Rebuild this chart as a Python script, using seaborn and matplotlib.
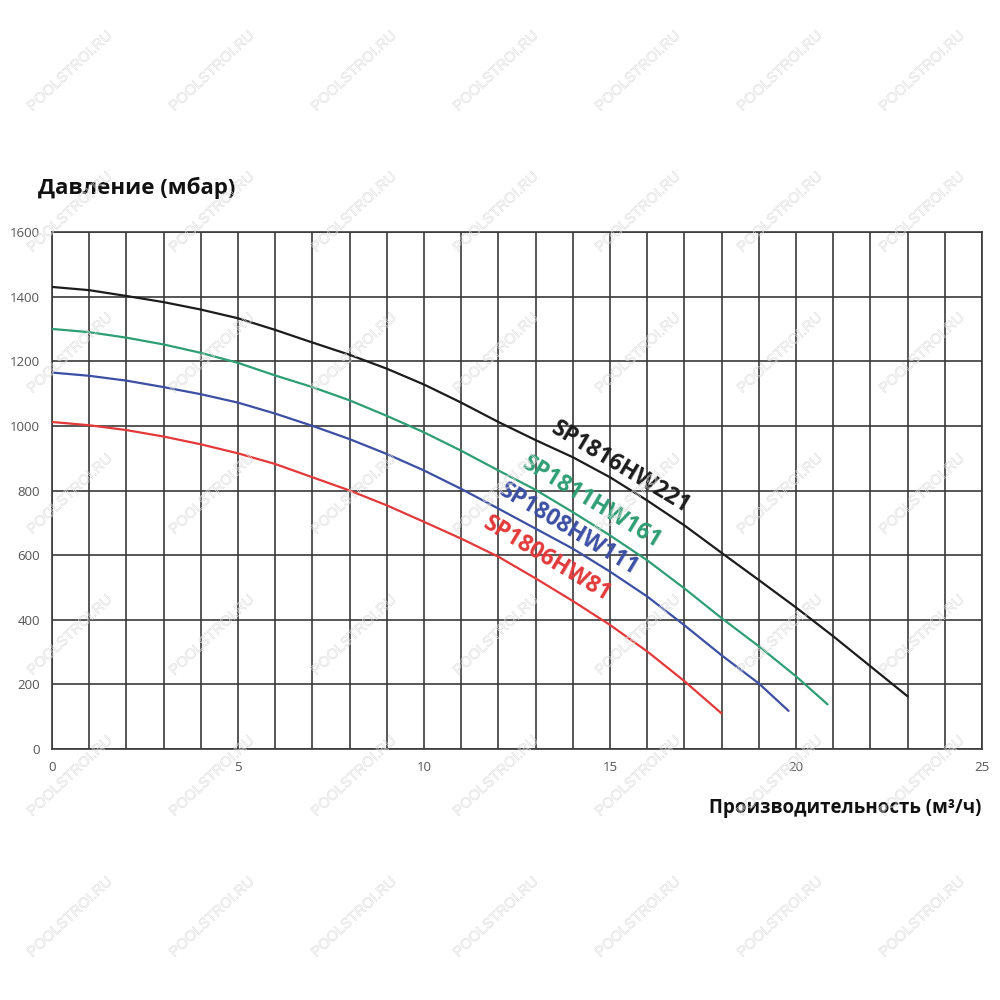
import numpy as np
import pandas as pd
import matplotlib
matplotlib.use('Agg')
import matplotlib.pyplot as plt
import matplotlib.patheffects as pe
import seaborn as sns

# flow, m3/h
flow_221 = [0, 1, 2, 3, 4, 5, 6, 7, 8, 9, 10, 11, 12, 13, 14, 15, 16, 17, 18, 19, 20, 21, 22, 23]
head_221 = [1430, 1420, 1402, 1383, 1360, 1333, 1297, 1258, 1220, 1177, 1128, 1072, 1012, 956,
            903, 841, 769, 692, 607, 523, 438, 349, 256, 163]

flow_161 = [0, 1, 2, 3, 4, 5, 6, 7, 8, 9, 10, 11, 12, 13, 14, 15, 16, 17, 18, 19, 20, 20.85]
head_161 = [1300, 1290, 1273, 1252, 1226, 1195, 1156, 1120, 1079, 1031, 980, 923, 862, 802,
            733, 661, 584, 497, 405, 318, 225, 138]

flow_111 = [0, 1, 2, 3, 4, 5, 6, 7, 8, 9, 10, 11, 12, 13, 14, 15, 16, 17, 18, 19, 19.8]
head_111 = [1165, 1155, 1140, 1120, 1098, 1072, 1038, 1000, 959, 913, 862, 805, 744, 682,
            620, 549, 472, 383, 290, 203, 118]

flow_81 = [0, 1, 2, 3, 4, 5, 6, 7, 8, 9, 10, 11, 12, 13, 14, 15, 16, 17, 18]
head_81 = [1012, 1002, 987, 967, 943, 915, 882, 841, 800, 754, 703, 651, 595, 528,
           458, 384, 302, 210, 110]

models = ['SP1816HW221', 'SP1811HW161', 'SP1808HW111', 'SP1806HW81']
colors = ['#1c1c1c', '#2e9e74', '#3c4fa3', '#e3393a']
label_x = [15.3, 14.5, 13.9, 13.3]
label_y = [870, 762, 680, 588]

flows = [flow_221, flow_161, flow_111, flow_81]
heads = [head_221, head_161, head_111, head_81]

rows = []
for m, fl, hd in zip(models, flows, heads):
    for f, h in zip(fl, hd):
        rows.append({'model': m, 'flow': f, 'head': h})
df = pd.DataFrame(rows)

sns.set_style('white')
plt.rcParams['font.family'] = ['Open Sans', 'DejaVu Sans']

fig = plt.figure(figsize=(10, 10), dpi=100)
ax = fig.add_axes([0.052, 0.251, 0.930, 0.517])

sns.lineplot(data=df, x='flow', y='head', hue='model', hue_order=models,
             palette=colors, linewidth=1.6, legend=False, sort=False, ax=ax, zorder=3)

ax.set_xlim(0, 25)
ax.set_ylim(0, 1600)
ax.set_xticks(np.arange(0, 26, 1), minor=True)
ax.set_xticks(np.arange(0, 26, 5))
ax.set_yticks(np.arange(0, 1601, 200))
ax.grid(True, which='both', color='#3a3a3a', linewidth=1.2)
for s in ax.spines.values():
    s.set_color('#3a3a3a')
    s.set_linewidth(1.2)
ax.tick_params(axis='both', which='major', direction='out', length=5, width=1.2,
               color='#3a3a3a', labelsize=9.5, labelcolor='#555555')
ax.tick_params(axis='x', which='minor', length=0)
ax.set_xlabel('')
ax.set_ylabel('')

for m, c, lx, ly in zip(models, colors, label_x, label_y):
    ax.text(lx, ly, m, color=c, fontsize=16.5, fontweight='bold', rotation=-31,
            rotation_mode='anchor', ha='center', va='center', zorder=4)

fig.text(0.038, 0.812, 'Давление (мбар)', fontsize=16, fontweight='bold',
         ha='left', va='center', color='#111111')
fig.text(0.981, 0.192, 'Производительность (м³/ч)', fontsize=13.5, fontweight='bold',
         ha='right', va='center', color='#111111')

# watermark, outline only
wm_fx = [pe.Stroke(linewidth=0.4, foreground='#dadada')]
for wy in [0.929, 0.788, 0.647, 0.506, 0.365, 0.224, 0.083]:
    for wx in [0.070, 0.212, 0.354, 0.496, 0.638, 0.780, 0.922]:
        fig.text(wx, wy, 'POOLSTROI.RU', fontsize=10.5, color='none',
                 family='Liberation Sans', rotation=43, ha='center', va='center',
                 zorder=10, path_effects=wm_fx)

fig.savefig('out.png', dpi=100)
